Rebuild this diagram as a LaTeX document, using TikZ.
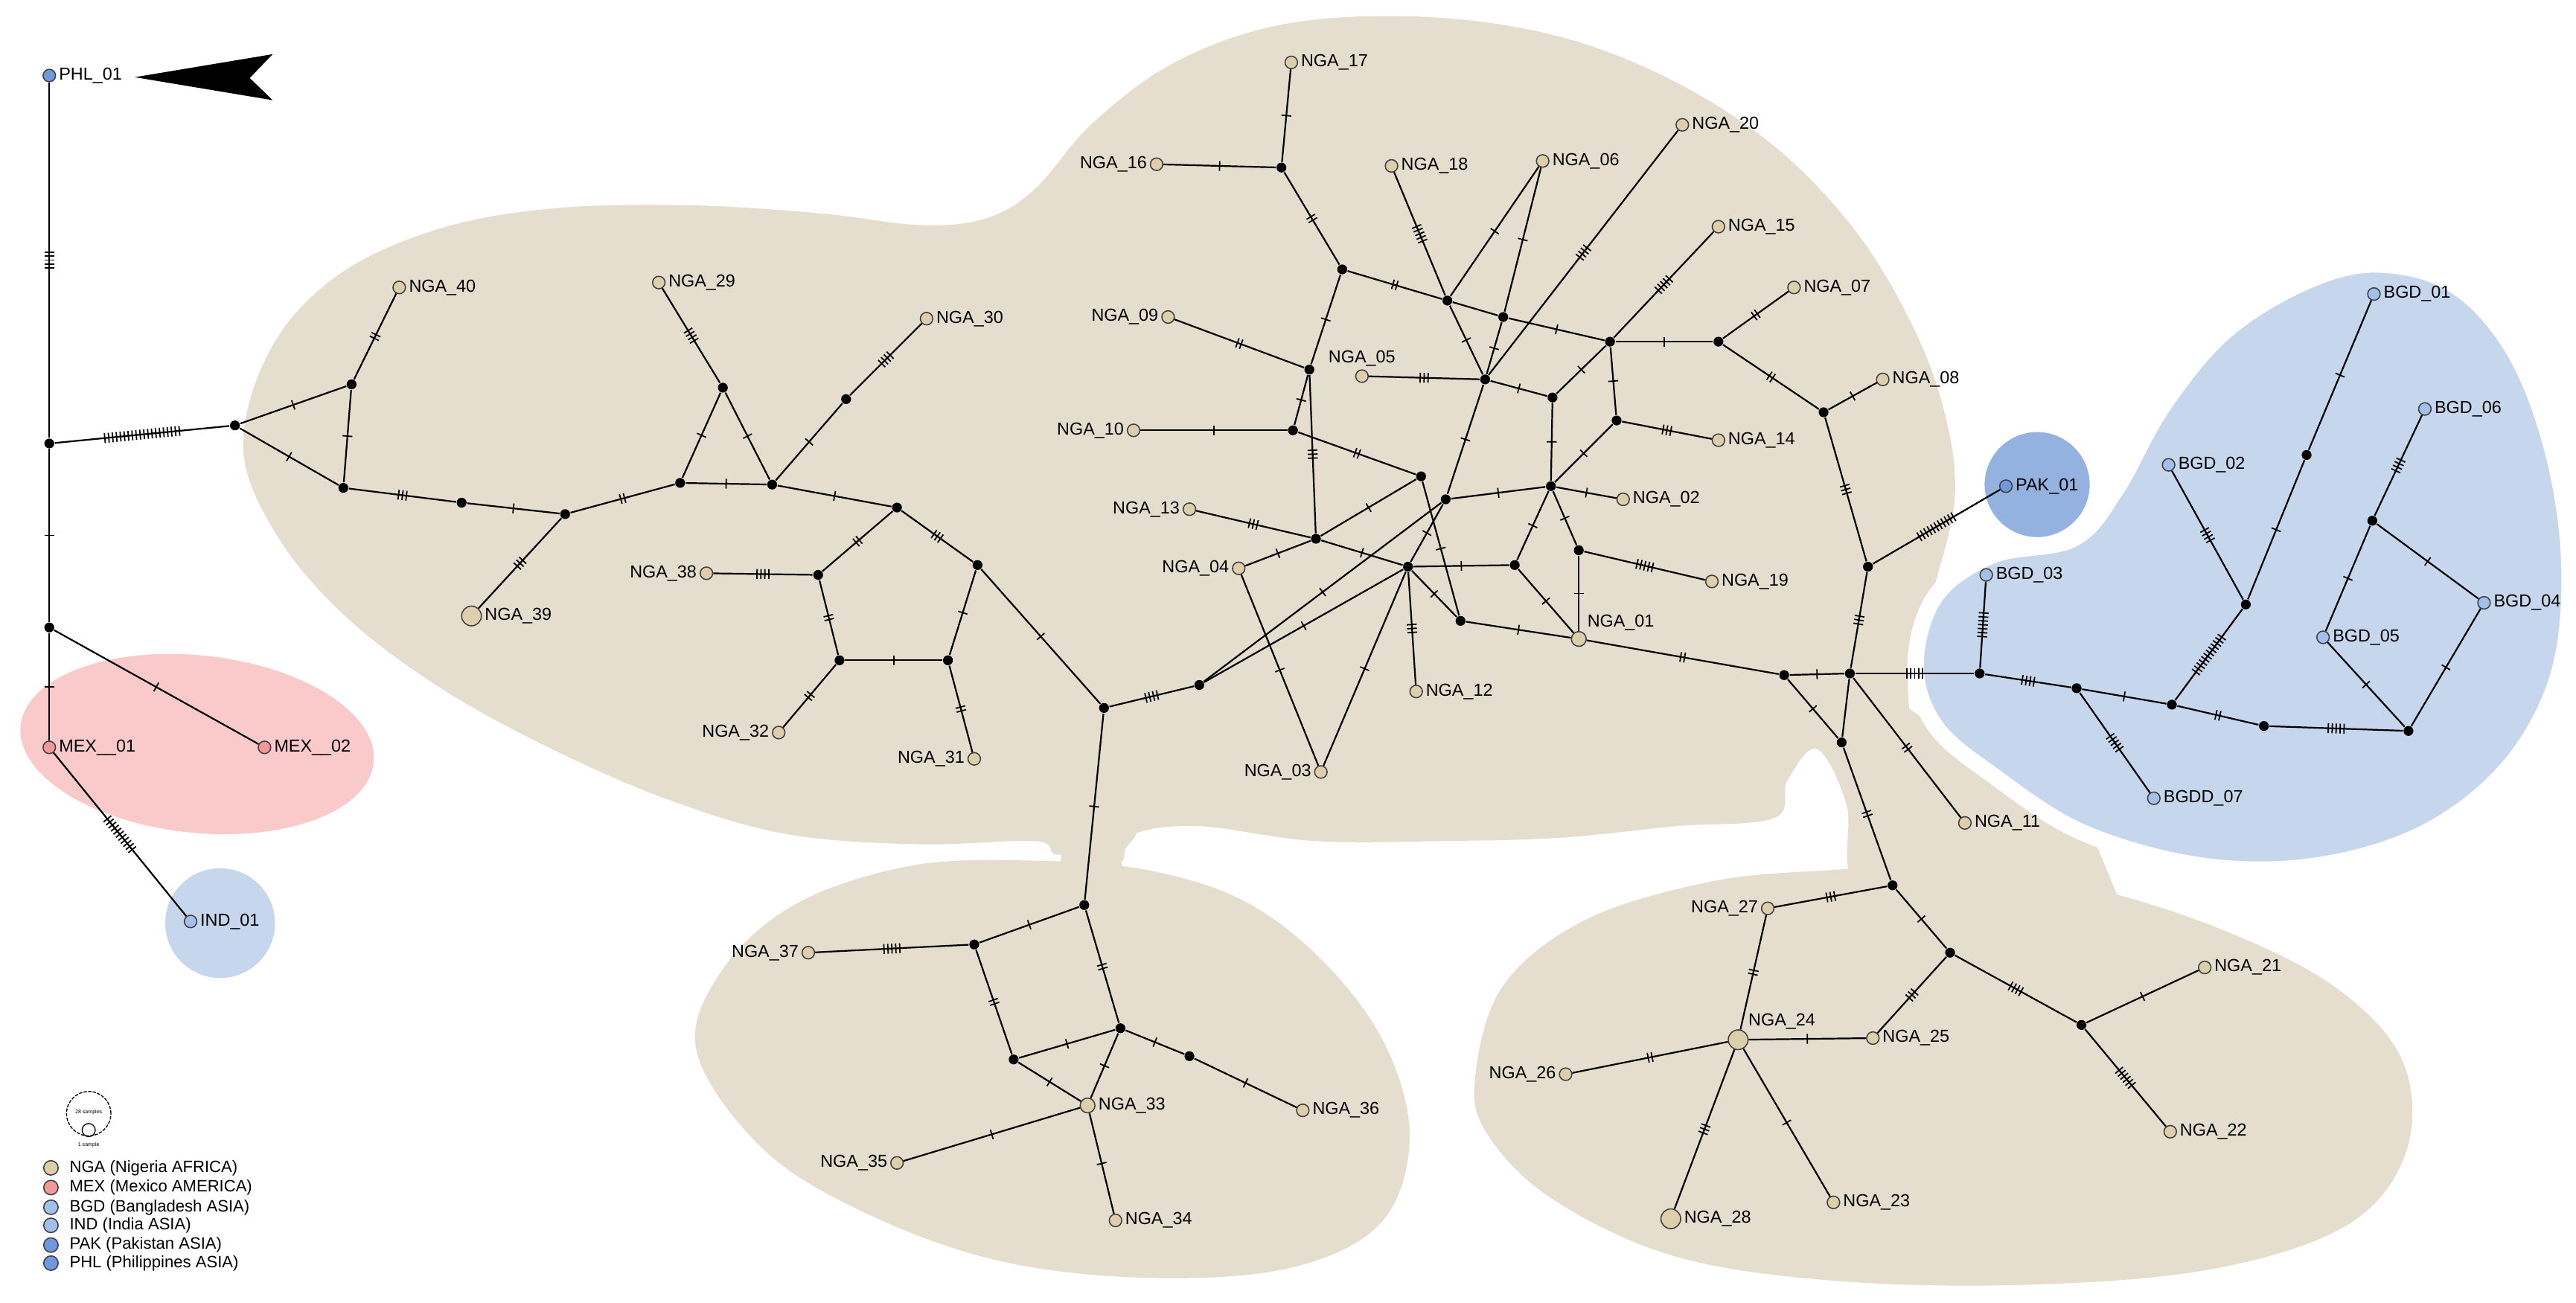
\documentclass[tikz,border=0pt]{standalone}
\usepackage{fontspec}
\setmainfont{Liberation Sans}
\usetikzlibrary{decorations.markings}

\definecolor{ngabg}{RGB}{229,221,206}
\definecolor{bgdbg}{RGB}{198,214,237}
\definecolor{pakbg}{RGB}{148,178,224}
\definecolor{mexbg}{RGB}{250,202,202}
\definecolor{nga}{RGB}{221,206,172}
\definecolor{mex}{RGB}{241,152,152}
\definecolor{bgd}{RGB}{163,192,236}
\definecolor{pak}{RGB}{112,152,220}

\tikzset{
  hap/.style={circle, draw=black!75, line width=0.35pt, inner sep=0pt, minimum size=3.8pt},
  bighap/.style={minimum size=6pt},
  midhap/.style={minimum size=4.5pt},
  med/.style={circle, fill=black, inner sep=0pt, minimum size=3pt},
  lab/.style={font=\fontsize{5.3}{6}\selectfont, inner sep=0.7pt},
  legtext/.style={font=\fontsize{5}{6}\selectfont, inner sep=0pt, anchor=west},
  link/.style={line width=0.5pt, black},
  hatch/.style={line width=0.4pt, black},
}

\newcommand\mutlink[3]{%
  \ifnum#3>0
    \draw[link, postaction={decorate}, decoration={markings, mark=at position 0.5 with {%
      \foreach \k in {1,...,#3}{\draw[hatch] ({(\k-(#3+1)/2)*1.2pt},-1.5pt) -- ({(\k-(#3+1)/2)*1.2pt},1.5pt);}}}] (#1) -- (#2);
  \else
    \draw[link] (#1) -- (#2);
  \fi}

\begin{document}
\begin{tikzpicture}[x=0.5pt, y=-0.5pt]

\useasboundingbox (0,0) rectangle (1568,793);
\fill[white] (0,0) rectangle (1568,793);

% population areas
\fill[ngabg] plot[smooth cycle, tension=0.6] coordinates {
  (148,272) (165,212) (205,168) (265,140) (335,127) (420,125) (500,130) (560,137)
  (600,133) (630,115) (665,75) (715,38) (780,15) (860,10) (940,20) (1010,45)
  (1075,85) (1125,135) (1160,190) (1182,245) (1190,300) (1178,355) (1162,405)
  (1166,455) (1180,488) (1200,515) (1190,538) (1130,538) (1124,490) (1106,456)
  (1088,475) (1080,498) (1020,503) (950,510) (880,512) (800,512) (730,503)
  (690,508) (682,525) (660,520) (642,520) (630,512) (560,514) (480,508)
  (410,488) (340,458) (270,420) (210,375) (168,325)};
\fill[ngabg] (1160,430) -- (1215,468) -- (1270,500) -- (1290,548) -- (1150,548) -- cycle;
\fill[ngabg] plot[smooth cycle, tension=0.5] coordinates {
  (636,505) (690,505) (682,522) (686,545) (638,545) (646,522)};
\fill[ngabg] plot[smooth cycle, tension=0.6] coordinates {
  (424,640) (440,590) (485,550) (555,527) (630,524) (700,530) (760,550) (810,590)
  (845,640) (858,695) (840,745) (785,772) (700,778) (610,768) (530,740) (465,700)};
\fill[ngabg] plot[smooth cycle, tension=0.6] coordinates {
  (898,655) (915,600) (965,560) (1040,537) (1110,530) (1190,528) (1270,540)
  (1350,565) (1420,600) (1462,645) (1465,700) (1430,745) (1350,772) (1240,782)
  (1120,780) (1020,765) (945,730) (905,690)};
\filldraw[bgdbg, draw=white, line width=5pt] plot[smooth cycle, tension=0.6] coordinates {
  (1166,405) (1178,363) (1213,338) (1262,328) (1288,298) (1316,248) (1353,203)
  (1400,173) (1445,161) (1493,173) (1530,213) (1554,275) (1564,345) (1557,412)
  (1527,467) (1476,507) (1410,527) (1340,527) (1268,507) (1213,472) (1178,442)};
\filldraw[pakbg, draw=white, line width=5pt] (1240,295) circle [radius=18.5pt];
\fill[mexbg, rotate around={-6:(120,453)}] (120,453) ellipse [x radius=54pt, y radius=27pt];
\fill[bgdbg] (134,562) circle [radius=16.7pt];

% arrow
\fill (82,47) -- (166,33) -- (152,47.5) -- (166,61) -- cycle;

% haplotypes
\foreach \i/\x/\y in {17/786/38, 18/847/101, 06/939/98, 20/1024/76, 15/1046/138,
  07/1092/175, 08/1146/231, 14/1046/268, 02/988/304, 19/1042/354, 12/862/421,
  11/1196/501, 40/243/175, 29/401/172, 30/564/194, 36/793/676, 34/679/743,
  25/1140/632, 21/1342/589, 22/1321/689, 23/1116/732}
  \node[hap, fill=nga, label={[lab]right:NGA\_\i}] (N\i) at (\x,\y) {};
\foreach \i/\x/\y in {39/287/375, 28/1017/742}
  \node[hap, bighap, fill=nga, label={[lab]right:NGA\_\i}] (N\i) at (\x,\y) {};
\node[hap, midhap, fill=nga, label={[lab]right:NGA\_33}] (N33) at (662,673) {};
\foreach \i/\x/\y in {16/704/100, 09/711/193, 10/690/262, 13/724/310, 38/430/349,
  04/754/346, 32/474/446, 31/593/462, 03/804/470, 37/492/580, 35/546/708,
  27/1076/553, 26/953/654}
  \node[hap, fill=nga, label={[lab]left:NGA\_\i}] (N\i) at (\x,\y) {};
\node[hap, fill=nga, label={[lab]above:NGA\_05}] (N05) at (829,229) {};
\node[hap, midhap, fill=nga, label={[lab]above right:NGA\_01}] (N01) at (961,389) {};
\node[hap, bighap, fill=nga, label={[lab]above right:NGA\_24}] (N24) at (1058,633) {};

\node[hap, fill=pak, label={[lab]right:PHL\_01}] (PHL) at (30,46) {};
\node[hap, fill=mex, label={[lab]right:MEX\_\_01}] (MEX1) at (30,455) {};
\node[hap, fill=mex, label={[lab]right:MEX\_\_02}] (MEX2) at (161,455) {};
\node[hap, fill=bgd, label={[lab]right:IND\_01}] (IND) at (116,561) {};
\node[hap, fill=pak, label={[lab]right:PAK\_01}] (PAK) at (1221,296) {};
\foreach \i/\x/\y in {1/1445/179, 6/1476/249, 2/1320/283, 3/1209/350, 4/1512/367, 5/1414/388}
  \node[hap, fill=bgd, label={[lab]right:BGD\_0\i}] (BGD\i) at (\x,\y) {};
\node[hap, fill=bgd, label={[lab]right:BGDD\_07}] (BGD7) at (1311,486) {};

% median vectors
\foreach \n/\x/\y in {m1/30/270, m2/30/382, m3/143/259, m4/214/234, m5/209/297,
  m6/281/306, m7/344/313, m8/414/294, m9/440/236, m10/470/295, m11/515/243,
  m12/546/309, m13/498/350, m14/595/344, m15/511/402, m16/577/402, m17/672/431,
  m18/730/417, m19/660/551, m20/593/575, m21/682/626, m22/617/645, m23/724/643,
  xa/780/102, xb/817/164, xc/881/183, xd/915/193, xe/980/208, xf/1046/208,
  xg/1110/251, xh/797/225, xi/904/231, xj/945/242, xk/984/256, xl/787/262,
  xm/865/290, xn/880/304, xo/944/296, xp/801/328, xq/857/345, xr/922/344,
  xs/961/335, xt/889/378, xu/1086/411, xv/1126/410, xw/1137/345, xx/1121/452,
  xy/1152/539, xz/1187/580, xaa/1267/624,
  b1/1205/410, b2/1264/419, b3/1322/429, b4/1378/442, b5/1466/445,
  b6/1367/368, b7/1404/277, b8/1444/317}
  \node[med] (\n) at (\x,\y) {};

% mutational steps
\foreach \a/\b/\n in {PHL/m1/5, m1/m3/20, m1/m2/1, m2/MEX1/1, m2/MEX2/1, MEX1/IND/11,
  m3/m4/1, m3/m5/1, m4/m5/1, m4/N40/2, m5/m6/3, m6/m7/1, m7/N39/3, m7/m8/2,
  m8/m9/1, m8/m10/1, m10/m9/1, m9/N29/4, m10/m11/1, m11/N30/4, m10/m12/1,
  m12/m13/2, m12/m14/3, N38/m13/4, m13/m15/2, m15/m16/1, m16/m14/1, m15/N32/2,
  m16/N31/2, m14/m17/1, m17/m18/4, m17/m19/1,
  m19/m20/1, m20/N37/5, m19/m21/2, m20/m22/2, m22/m21/1, m22/N33/1, m21/N33/1,
  m21/m23/1, m23/N36/1, N33/N35/1, N33/N34/1,
  N16/xa/1, N17/xa/1, xa/xb/2, xb/xc/2, xc/xd/0, xd/xe/1, xb/xh/1, N18/xc/5,
  xc/xi/1, N06/xc/1, N06/xd/1, xd/xi/1, N20/xi/4, N05/xi/3, xi/xj/1, xe/xj/1,
  xj/xo/1, xe/xf/1, xe/xk/1, N15/xe/5, xf/N07/2, xf/xg/2, xg/N08/1, xg/xw/3,
  xk/N14/3, xk/xo/1,
  N09/xh/2, xh/xl/1, xh/xp/3, N10/xl/1, xl/xm/2, xm/xp/1, xm/xt/1, N13/xp/3,
  N04/xp/1, N04/N03/1, xp/xq/1,
  xq/xr/1, xq/N12/3, xq/N03/1, xq/xt/1, xq/xn/1, xq/m18/1, xn/m18/1, xn/xo/1,
  xn/xi/1, xo/N02/1, xo/xr/1, xo/xs/1, xr/N01/1, xs/N19/5, xs/N01/1, xt/N01/1,
  N01/xu/2, xu/xv/1, xu/xx/1, xv/xx/0, xv/N11/2, xx/xy/2, xv/xw/3, xw/PAK/11,
  xv/b1/5,
  xy/N27/3, N27/N24/2, xy/xz/1, xz/N25/3, xz/xaa/4, xaa/N21/1, xaa/N22/6,
  N24/N25/1, N24/N26/2, N24/N28/3, N24/N23/1,
  b1/BGD3/7, b1/b2/4, b2/b3/1, b2/BGD7/5, b3/b4/2, b4/b5/5, b3/b6/12,
  b6/BGD2/4, b6/b7/1, b7/BGD1/1, b8/BGD6/4, b8/BGD5/1, b8/BGD4/1,
  BGD5/b5/1, BGD4/b5/1}
  \mutlink{\a}{\b}{\n};

% legend
\draw[line width=0.3pt, dash pattern=on 1pt off 0.4pt] (54,678) circle [radius=6.75pt];
\node[font=\fontsize{1.6}{2}\selectfont, inner sep=0pt] (lgbig) at (54,677) {28 samples};
\draw[line width=0.3pt] (54,688) circle [radius=2pt];
\node[font=\fontsize{1.6}{2}\selectfont, inner sep=0pt] (lgone) at (54,697) {1 sample};
\foreach \c/\y/\t in {nga/711/NGA (Nigeria AFRICA), mex/723/MEX (Mexico AMERICA),
  bgd/735/BGD (Bangladesh ASIA), bgd/746/IND (India ASIA),
  pak/758/PAK (Pakistan ASIA), pak/769/PHL (Philippines ASIA)}{
  \node[hap, minimum size=4.4pt, fill=\c] at (31,\y) {};
  \node[legtext] at (42,\y) {\t};
}

\end{tikzpicture}
\end{document}
